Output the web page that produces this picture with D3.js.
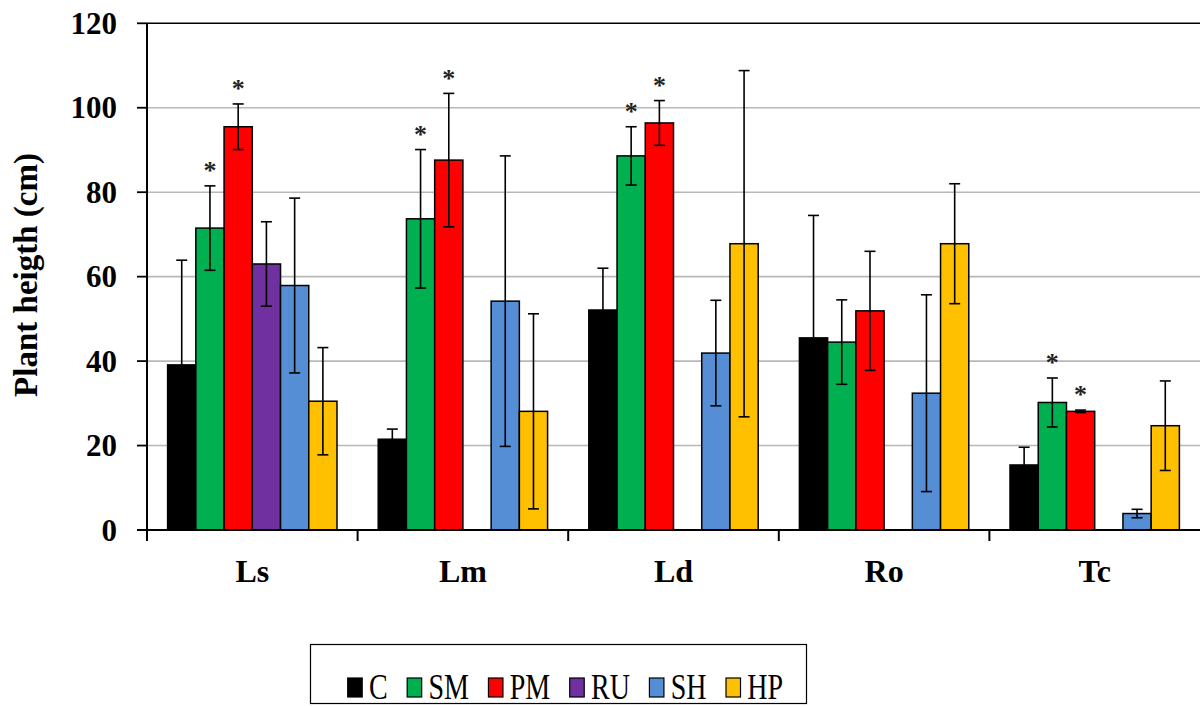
<!DOCTYPE html>
<html>
<head>
<meta charset="utf-8">
<script src="https://cdn.jsdelivr.net/npm/d3@7"></script>
<style>
	body { margin: 0; background: #fff; }
	svg { display: block; font-family: "Liberation Serif", "Times New Roman", serif; }
</style>
</head>
<body>
<div id="chart"></div>
<script>
// Data
const categories = ["Ls", "Lm", "Ld", "Ro", "Tc"];
const seriesKeys = ["C", "SM", "PM", "RU", "SH", "HP"];

const meanC = [39.1, 21.5, 52.1, 45.5, 15.4];
const meanSM = [71.5, 73.7, 88.6, 44.5, 30.2];
const meanPM = [95.5, 87.6, 96.4, 51.9, 28.1];
const meanRU = [63.0, null, null, null, null];
const meanSH = [57.9, 54.2, 41.9, 32.4, 3.9];
const meanHP = [30.5, 28.1, 67.8, 67.8, 24.7];

const errC = [24.8, 2.4, 9.9, 29.0, 4.2];
const errSM = [10.0, 16.4, 6.9, 10.0, 5.8];
const errPM = [5.4, 15.8, 5.3, 14.1, 0.3];
const errRU = [10.0, null, null, null, null];
const errSH = [20.7, 34.4, 12.5, 23.3, 1.0];
const errHP = [12.7, 23.1, 41.0, 14.2, 10.6];

// significance asterisks
const sigSM = [true, true, true, false, true];
const sigPM = [true, true, true, false, true];

const yTicks = [0, 20, 40, 60, 80, 100, 120];

const colors = {
	C: "#000000",
	SM: "#00b050",
	PM: "#ff0000",
	RU: "#7030a0",
	SH: "#558ed5",
	HP: "#ffc000",
};

const means = { C: meanC, SM: meanSM, PM: meanPM, RU: meanRU, SH: meanSH, HP: meanHP };
const errs = { C: errC, SM: errSM, PM: errPM, RU: errRU, SH: errSH, HP: errHP };
const sigs = { SM: sigSM, PM: sigPM };

// Build flat records
const records = [];
categories.forEach((cat, i) => {
	seriesKeys.forEach((key) => {
		const v = means[key][i];
		if (v == null) return;
		records.push({
			cat,
			key,
			value: v,
			err: errs[key][i],
			sig: sigs[key] ? sigs[key][i] : false,
		});
	});
});

// Dimensions
const W = 1200, H = 706;
const plot = { left: 147, right: 1200, top: 23.3, bottom: 530 };

const svg = d3
	.select("#chart")
	.append("svg")
	.attr("width", W)
	.attr("height", H)
	.attr("viewBox", `0 0 ${W} ${H}`);

// Scales
const x0 = d3
	.scaleBand()
	.domain(categories)
	.range([plot.left, plot.right])
	.paddingInner(0)
	.paddingOuter(0);

const x1 = d3
	.scaleBand()
	.domain(seriesKeys)
	.range([0, x0.bandwidth()])
	.paddingInner(0)
	.paddingOuter(0.73);

const y = d3.scaleLinear().domain([0, 120]).range([plot.bottom, plot.top]);

// Grid lines
svg.append("g")
	.selectAll("line")
	.data(yTicks.filter((t) => t > 0 && t < 120))
	.join("line")
	.attr("x1", plot.left)
	.attr("x2", plot.right)
	.attr("y1", (d) => y(d))
	.attr("y2", (d) => y(d))
	.attr("stroke", "#b8b8b8")
	.attr("stroke-width", 1.6);

// top border line at 120
svg.append("line")
	.attr("x1", plot.left)
	.attr("x2", plot.right)
	.attr("y1", y(120))
	.attr("y2", y(120))
	.attr("stroke", "#000")
	.attr("stroke-width", 1.5);

// Bars
svg.append("g")
	.selectAll("rect")
	.data(records)
	.join("rect")
	.attr("x", (d) => x0(d.cat) + x1(d.key))
	.attr("y", (d) => y(d.value))
	.attr("width", x1.bandwidth())
	.attr("height", (d) => y(0) - y(d.value))
	.attr("fill", (d) => colors[d.key])
	.attr("stroke", "#000")
	.attr("stroke-width", 1.5);

// Error bars
const capHalf = 5.5;
const eb = svg.append("g").attr("stroke", "#000").attr("stroke-width", 1.6);
records.forEach((d) => {
	const cx = x0(d.cat) + x1(d.key) + x1.bandwidth() / 2;
	const hi = y(d.value + d.err);
	const lo = y(Math.max(0, d.value - d.err));
	eb.append("line").attr("x1", cx).attr("x2", cx).attr("y1", hi).attr("y2", lo);
	eb.append("line").attr("x1", cx - capHalf).attr("x2", cx + capHalf).attr("y1", hi).attr("y2", hi);
	eb.append("line").attr("x1", cx - capHalf).attr("x2", cx + capHalf).attr("y1", lo).attr("y2", lo);
});

// Asterisks
svg.append("g")
	.selectAll("text")
	.data(records.filter((d) => d.sig))
	.join("text")
	.attr("x", (d) => x0(d.cat) + x1(d.key) + x1.bandwidth() / 2)
	.attr("y", (d) => y(d.value + d.err) - 19 + 12.3)
	.attr("text-anchor", "middle")
	.attr("font-size", 26)
	.attr("font-weight", "bold")
	.attr("fill", "#222")
	.text("*");

// Y axis
svg.append("line")
	.attr("x1", plot.left)
	.attr("x2", plot.left)
	.attr("y1", plot.top)
	.attr("y2", plot.bottom + 11)
	.attr("stroke", "#000")
	.attr("stroke-width", 2);

svg.append("g")
	.selectAll("line")
	.data(yTicks)
	.join("line")
	.attr("x1", plot.left - 10)
	.attr("x2", plot.left)
	.attr("y1", (d) => y(d))
	.attr("y2", (d) => y(d))
	.attr("stroke", "#000")
	.attr("stroke-width", 1.8);

svg.append("g")
	.selectAll("text")
	.data(yTicks)
	.join("text")
	.attr("x", 117)
	.attr("y", (d) => y(d))
	.attr("dy", "0.34em")
	.attr("text-anchor", "end")
	.attr("font-size", 31)
	.attr("font-weight", "bold")
	.text((d) => d);

svg.append("text")
	.attr("transform", `translate(37, 275) rotate(-90)`)
	.attr("text-anchor", "middle")
	.attr("font-size", 33)
	.attr("font-weight", "bold")
	.text("Plant heigth (cm)");

// X axis
svg.append("line")
	.attr("x1", plot.left - 10)
	.attr("x2", plot.right)
	.attr("y1", y(0))
	.attr("y2", y(0))
	.attr("stroke", "#000")
	.attr("stroke-width", 2);

svg.append("g")
	.selectAll("line")
	.data(categories)
	.join("line")
	.attr("x1", (d) => x0(d))
	.attr("x2", (d) => x0(d))
	.attr("y1", y(0))
	.attr("y2", y(0) + 11)
	.attr("stroke", "#000")
	.attr("stroke-width", 2);

svg.append("g")
	.selectAll("text")
	.data(categories)
	.join("text")
	.attr("x", (d) => x0(d) + x0.bandwidth() / 2)
	.attr("y", 581.5)
	.attr("text-anchor", "middle")
	.attr("font-size", 32)
	.attr("font-weight", "bold")
	.text((d) => d);

// Legend
svg.append("rect")
	.attr("x", 310.5)
	.attr("y", 644.5)
	.attr("width", 496)
	.attr("height", 59)
	.attr("fill", "#fff")
	.attr("stroke", "#000")
	.attr("stroke-width", 1.2);

const legend = svg.append("g");
let lx = 347.7;
seriesKeys.forEach((key) => {
	legend.append("rect")
		.attr("x", lx)
		.attr("y", 678)
		.attr("width", 14.5)
		.attr("height", 19)
		.attr("fill", colors[key])
		.attr("stroke", "#000")
		.attr("stroke-width", 1.2);
	const t = legend.append("text")
		.attr("transform", `translate(${lx + 21.3}, 699.3) scale(1, 1.25)`)
		.attr("font-size", 28)
		.text(key);
	lx += 21.3 + t.node().getComputedTextLength() + 19.5;
});
</script>
</body>
</html>
